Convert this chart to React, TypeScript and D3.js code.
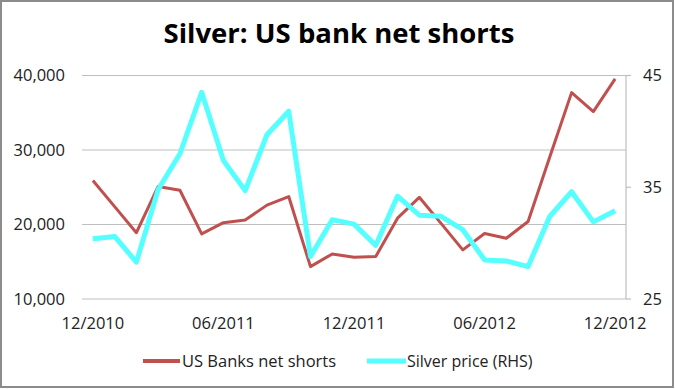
import React from "react";
import * as d3 from "d3";

const months = [
  "12/2010","01/2011","02/2011","03/2011","04/2011","05/2011","06/2011","07/2011","08/2011","09/2011","10/2011","11/2011",
  "12/2011","01/2012","02/2012","03/2012","04/2012","05/2012","06/2012","07/2012","08/2012","09/2012","10/2012","11/2012","12/2012",
];
const bankShorts = [
  25900, 22400, 18900, 25100, 24600, 18750, 20250, 20600, 22600, 23750, 14350, 16050,
  15600, 15700, 20850, 23650, 20150, 16600, 18800, 18150, 20400, 29100, 37700, 35150, 39550,
];
const silverPrice = [
  30.4, 30.6, 28.3, 34.8, 38.0, 43.5, 37.4, 34.7, 39.7, 41.8, 28.8, 32.1,
  31.7, 29.8, 34.2, 32.5, 32.4, 31.2, 28.5, 28.4, 27.9, 32.4, 34.6, 31.9, 32.9,
];
const leftTicks = [10000, 20000, 30000, 40000];
const rightTicks = [25, 35, 45];
const xLabelMonths = ["12/2010", "06/2011", "12/2011", "06/2012", "12/2012"];

const RED = "#C0504D";
const CYAN = "#55FFFF";
const FONT = "'Open Sans', sans-serif";

export default function App() {
  const W = 675, H = 389;
  const x = d3.scaleBand<string>().domain(months).range([82, 626]);
  const cx = (m: string) => (x(m) as number) + x.bandwidth() / 2;
  const yL = d3.scaleLinear().domain([10000, 40000]).range([299, 75.5]);
  const yR = d3.scaleLinear().domain([25, 45]).range([299, 75.5]);
  const fmt = d3.format(",");

  const redLine = d3.line<number>().x((_, i) => cx(months[i])).y((d) => yL(d))(bankShorts) || "";
  const cyanLine = d3.line<number>().x((_, i) => cx(months[i])).y((d) => yR(d))(silverPrice) || "";

  return (
    <svg width={W} height={H} style={{ position: "absolute", left: 0, top: 0, background: "#fff" }}>
      <rect x={1} y={1} width={672} height={386} fill="#fff" stroke="#8c8c8c" strokeWidth={2} />
      <text x={339} y={43} textAnchor="middle" fontFamily={FONT} fontWeight="bold" fontSize={27.5} fill="#000">
        Silver: US bank net shorts
      </text>
      {leftTicks.map((t) => (
        <g key={"l" + t}>
          <line x1={82} x2={626} y1={yL(t)} y2={yL(t)} stroke="#BFBFBF" strokeWidth={1.2} />
          <text x={65} y={yL(t)} dy="0.36em" textAnchor="end" fontFamily={FONT} fontSize={16.5} fill="#222">
            {fmt(t)}
          </text>
        </g>
      ))}
      <line x1={626} x2={626} y1={75.5} y2={299} stroke="#BFBFBF" strokeWidth={1.2} />
      {rightTicks.map((t) => (
        <g key={"r" + t}>
          <line x1={626} x2={631} y1={yR(t)} y2={yR(t)} stroke="#BFBFBF" strokeWidth={1.2} />
          <text x={643} y={yR(t)} dy="0.36em" textAnchor="start" fontFamily={FONT} fontSize={16.5} fill="#222">
            {t}
          </text>
        </g>
      ))}
      {xLabelMonths.map((m) => (
        <text key={m} x={cx(m)} y={329} textAnchor="middle" fontFamily={FONT} fontSize={16.5} fill="#222">
          {m}
        </text>
      ))}
      <path d={redLine} fill="none" stroke={RED} strokeWidth={3} strokeLinejoin="round" />
      <path d={cyanLine} fill="none" stroke={CYAN} strokeWidth={5} strokeLinejoin="round" />
      <line x1={143} x2={180} y1={361} y2={361} stroke={RED} strokeWidth={4} />
      <text x={182} y={361} dy="0.36em" fontFamily={FONT} fontSize={16.5} fill="#222">US Banks net shorts</text>
      <line x1={367} x2={406} y1={361} y2={361} stroke={CYAN} strokeWidth={5} />
      <text x={407} y={361} dy="0.36em" fontFamily={FONT} fontSize={16} fill="#222">Silver price (RHS)</text>
    </svg>
  );
}
